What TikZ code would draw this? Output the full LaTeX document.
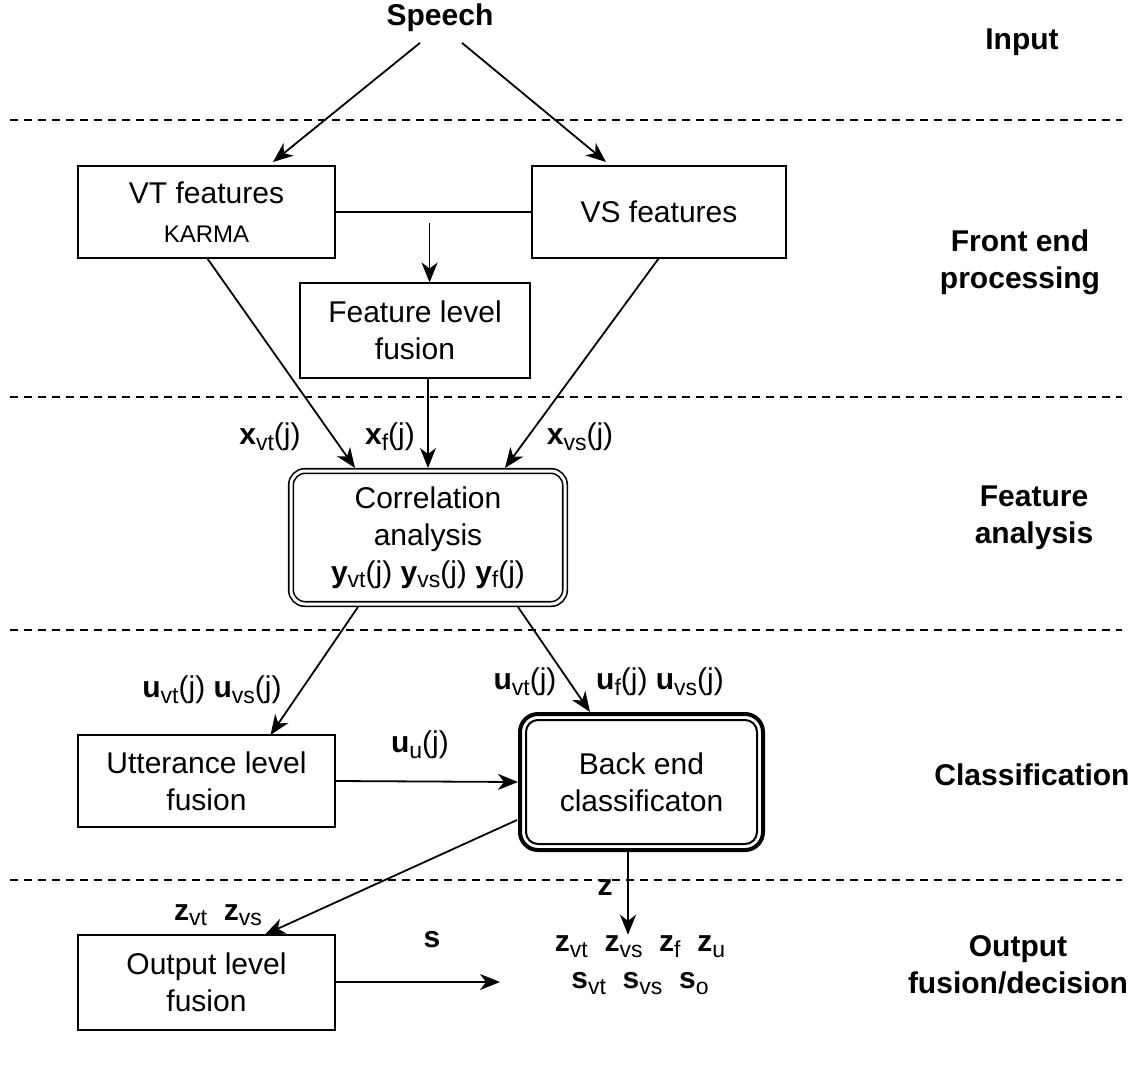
\documentclass[tikz,border=0pt]{standalone}
\usepackage{fontspec}
\setmainfont{Liberation Sans}
\usetikzlibrary{arrows.meta,calc}

\newcommand{\vsub}[1]{\raisebox{-0.35ex}{\fontsize{11.5}{12}\selectfont #1}}
\newcommand{\vv}[2]{\textbf{#1}\vsub{#2}}

\tikzset{
  blk/.style={draw, line width=1pt, outer sep=0pt, inner sep=0pt, align=center,
    minimum width=128.5pt, minimum height=46pt},
  lvl/.style={font=\bfseries, align=center},
  sep/.style={dash pattern=on 4pt off 3pt, line width=0.8pt},
  lbl/.style={inner sep=0pt},
}

\begin{document}
\fontsize{15}{18.5}\selectfont
\begin{tikzpicture}[x=0.5pt, y=-0.5pt, >={Stealth[length=10pt, width=8pt, inset=3pt]}, line width=0.9pt]
      \useasboundingbox (0,0) rectangle (1134,1065);

      % layer names on the right
      \node[lvl] (input) at (1022,42) {Input};
      \node[lvl] (front) at (1020,262) {Front end\\processing};
      \node[lvl] (fana) at (1034,518) {Feature\\analysis};
      \node[lvl] (cls) at (1032,775) {Classification};
      \node[lvl] (odec) at (1018,965) {Output\\fusion/decision};

      % separators
      \foreach \y in {120,397,630,880}
        \draw[sep] (10,\y) -- (1122,\y);

      % boxes
      \node[font=\bfseries] (speech) at (440,18) {Speech};
      \node[blk] (vt) at (206.5,212) {VT features\\[1pt]{\fontsize{12}{14}\selectfont KARMA}};
      \node[blk, minimum width=127pt] (vs) at (659,212) {VS features};
      \node[blk, minimum width=115pt, minimum height=47.5pt] (feat) at (415,330) {Feature level\\fusion};
      \node[blk, double, double distance=1.5pt, line width=0.8pt, rounded corners=7pt,
        minimum width=137pt, minimum height=66.5pt] (corr) at (428,537.5)
        {Correlation\\analysis\\\vv{y}{vt}(j) \vv{y}{vs}(j) \vv{y}{f}(j)};
      \node[blk] (utt) at (206.5,781) {Utterance level\\fusion};
      \node[blk, rounded corners=6pt, minimum width=115.5pt, minimum height=62pt] (be) at (641.5,782)
        {Back end\\classificaton};
      \draw[line width=2pt, rounded corners=9pt] ($(be.south west)+(-6,6)$) rectangle ($(be.north east)+(6,-6)$);
      \node[blk, minimum height=47.5pt] (outp) at (206.5,982) {Output level\\fusion};
      \node[lbl, align=center] (res) at (640,965)
        {\vv{z}{vt}\ \ \vv{z}{vs}\ \ \vv{z}{f}\ \ \vv{z}{u}\\\vv{s}{vt}\ \ \vv{s}{vs}\ \ \vv{s}{o}};

      % connectors
      \draw[->] ($(speech.south)+(-20,0)$) -- ($(vt.north)+(66.5,-4)$);
      \draw[->] ($(speech.south)+(22,0)$) -- ($(vs.north)+(-53,-4)$);
      \draw (vt.east) -- (vs.west);
      \coordinate (fork) at ($(vt.east)!0.48!(vs.west)$);
      \draw[->] ($(fork)+(0,11)$) -- (fork |- feat.north);

      \draw[->] ($(vt.south)+(0.5,0)$) -- ($(corr.north)+(-73,-3)$);
      \draw[->] (feat.south -| corr.north) -- ($(corr.north)+(0,-3)$);
      \draw[->] (vs.south) -- ($(corr.north)+(77,-3)$);

      \draw[->] ($(corr.south)+(-70,3)$) -- ($(utt.north)+(64,0)$);
      \draw[->] ($(corr.south)+(90,3)$) -- ($(be.north)+(-51.5,-8)$);
      \draw[->] (utt.east) -- ($(be.west)+(-8,0)$);

      \draw[->] ($(be.west)+(-9,38)$) -- ($(outp.north)+(58.5,0)$);
      \coordinate (bez) at ($(be.south)+(-13.5,8)$);
      \draw[->] (bez) -- (bez |- res.north);
      \coordinate (send) at ($(outp.east)+(165,0)$);
      \draw[->] (outp.east) -- (send);

      % labels
      \node[lbl] (xvt) at (270,437) {\vv{x}{vt}(j)};
      \node[lbl] (xf) at (390,437) {\vv{x}{f}(j)};
      \node[lbl] (xvs) at (580,437) {\vv{x}{vs}(j)};
      \node[lbl] (uleft) at (212,690) {\vv{u}{vt}(j) \vv{u}{vs}(j)};
      \node[lbl] (uvt) at (525,682) {\vv{u}{vt}(j)};
      \node[lbl] (ufvs) at (660,682) {\vv{u}{f}(j) \vv{u}{vs}(j)};
      \node[lbl] (uu) at (420,745) {\vv{u}{u}(j)};
      \node[lbl] (zleft) at (218,915) {\vv{z}{vt}\ \ \vv{z}{vs}};
      \node[lbl, font=\bfseries] (zl) at (605,888) {z};
      \node[lbl, font=\bfseries] (sl) at (432,940) {s};
    \end{tikzpicture}
\end{document}
